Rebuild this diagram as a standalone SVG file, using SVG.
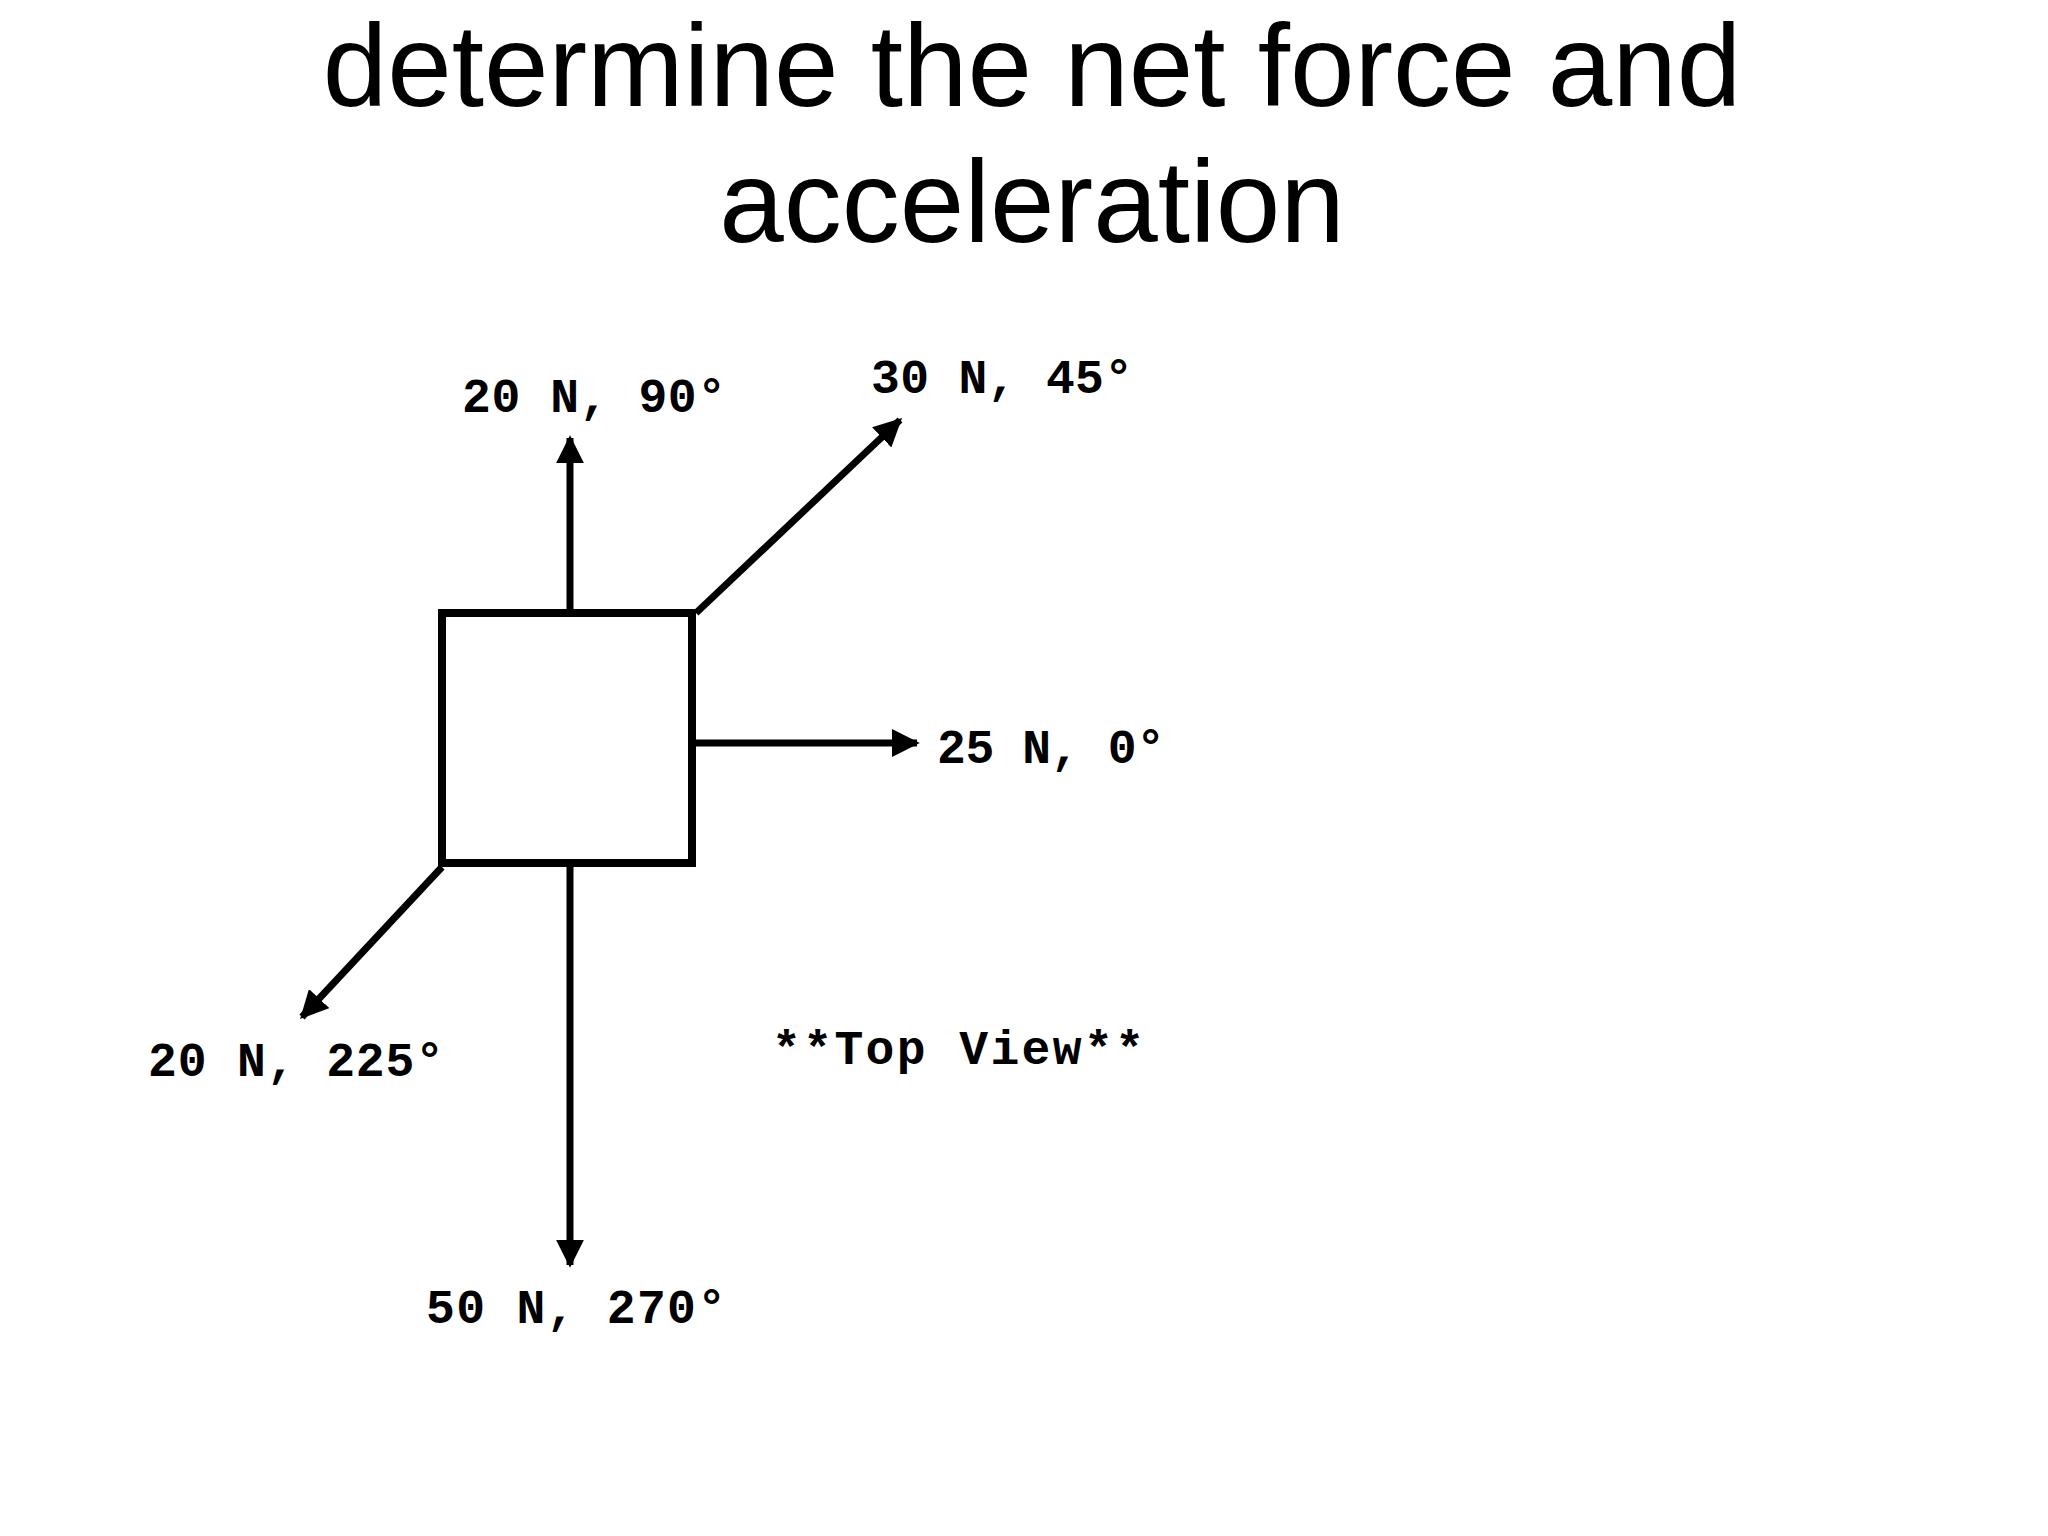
<svg xmlns="http://www.w3.org/2000/svg" width="2048" height="1536" viewBox="0 0 2048 1536">
<style>
.t{font-family:"Liberation Sans",Arial,sans-serif;font-size:116px;fill:#000;text-anchor:middle}
.l{font-family:"Liberation Mono","DejaVu Sans Mono",monospace;font-weight:bold;font-size:48px;fill:#000}
.c{stroke:#000;stroke-width:7;fill:none}
</style>
<defs><marker id="a" viewBox="0 0 10 10" refX="9" refY="5" markerWidth="4" markerHeight="4" orient="auto" markerUnits="strokeWidth"><path d="M0,0L10,5L0,10z" fill="#000"/></marker></defs>
<rect width="2048" height="1536" fill="#fff"/>
<text class="t" x="1032" y="106">determine the net force and</text>
<text class="t" x="1032" y="242">acceleration</text>
<g id="box"><rect x="442" y="613" width="250" height="250" fill="#fff" stroke="#000" stroke-width="8"/></g>
<g id="connectors">
<line class="c" x1="570" y1="609" x2="570" y2="438" marker-end="url(#a)"/>
<line class="c" x1="696" y1="613" x2="900" y2="420" marker-end="url(#a)"/>
<line class="c" x1="696" y1="743" x2="917" y2="743" marker-end="url(#a)"/>
<line class="c" x1="442" y1="867" x2="302" y2="1017" marker-end="url(#a)"/>
<line class="c" x1="570" y1="867" x2="570" y2="1265" marker-end="url(#a)"/>
</g>
<g id="labels">
<text class="l" x="462" y="412" textLength="264">20 N, 90°</text>
<text class="l" x="871" y="393" textLength="262">30 N, 45°</text>
<text class="l" x="937" y="763" textLength="228">25 N, 0°</text>
<text class="l" x="148" y="1076" textLength="296">20 N, 225°</text>
<text class="l" x="426" y="1323" textLength="300">50 N, 270°</text>
<text class="l" x="772" y="1064" textLength="372">**Top View**</text>
</g>
</svg>
